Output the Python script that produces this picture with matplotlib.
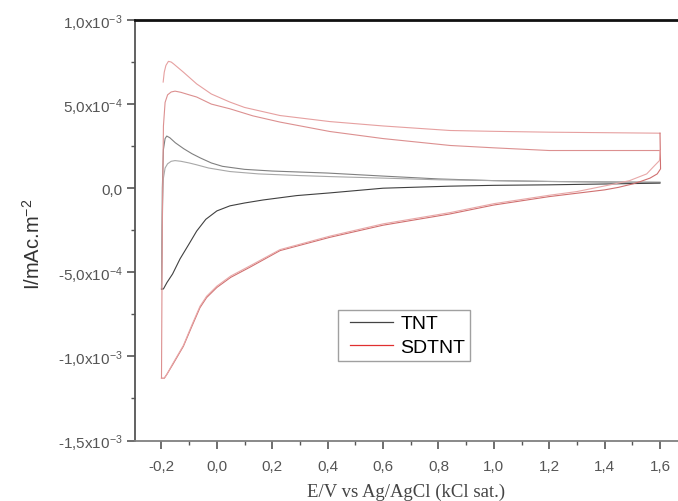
import matplotlib.pyplot as plt
from matplotlib.lines import Line2D
from matplotlib.legend_handler import HandlerLine2D
from matplotlib.ticker import MultipleLocator

plt.rcParams['font.family'] = ['Liberation Sans', 'DejaVu Sans']
plt.rcParams['mathtext.default'] = 'regular'

# Cyclic voltammograms, E in V, I in units of 1e-4
# TNT - first anodic sweep
tnt_an1_E = [-0.2, -0.197, -0.193, -0.187, -0.181, -0.17, -0.15, -0.12, -0.09, -0.06,
             -0.02, 0.02, 0.1, 0.2, 0.4, 0.6, 0.8, 1.0, 1.2, 1.4, 1.6]
tnt_an1_I = [-6.0, 0.0, 2.3, 2.95, 3.1, 3.0, 2.7, 2.35, 2.05, 1.8,
             1.5, 1.3, 1.12, 1.02, 0.9, 0.72, 0.55, 0.45, 0.4, 0.37, 0.35]
# TNT - second anodic sweep
tnt_an2_E = [-0.2, -0.196, -0.193, -0.187, -0.178, -0.165, -0.151, -0.13, -0.1, -0.073,
             -0.03, 0.047, 0.15, 0.3, 0.408, 0.6, 0.8, 1.0, 1.2, 1.4, 1.6]
tnt_an2_I = [-6.0, -1.0, 0.6, 1.2, 1.45, 1.6, 1.64, 1.6, 1.5, 1.39,
             1.2, 0.99, 0.85, 0.75, 0.69, 0.6, 0.5, 0.45, 0.4, 0.37, 0.35]
# TNT - cathodic sweep
tnt_cat_E = [1.6, 1.4, 1.2, 1.0, 0.84, 0.6, 0.408, 0.288, 0.167, 0.1, 0.047,
             0.0, -0.04, -0.073, -0.1, -0.133, -0.16, -0.18, -0.193, -0.2]
tnt_cat_I = [0.3, 0.25, 0.2, 0.17, 0.12, 0.0, -0.28, -0.44, -0.7, -0.88, -1.05,
             -1.35, -1.85, -2.55, -3.3, -4.2, -5.1, -5.6, -5.99, -6.0]

# SDTNT - first anodic sweep
sd_an1_E = [-0.194, -0.19, -0.184, -0.175, -0.165, -0.157, -0.121, -0.073, -0.02, 0.047,
            0.1, 0.228, 0.408, 0.6, 0.842, 1.0, 1.2, 1.4, 1.6]
sd_an1_I = [6.31, 6.9, 7.3, 7.54, 7.5, 7.4, 6.9, 6.2, 5.6, 5.12,
            4.8, 4.32, 3.96, 3.7, 3.43, 3.38, 3.33, 3.3, 3.27]
# SDTNT - second anodic sweep
sd_an2_E = [-0.2, -0.197, -0.193, -0.187, -0.178, -0.165, -0.151, -0.13, -0.1, -0.073,
            -0.02, 0.047, 0.13, 0.228, 0.408, 0.6, 0.842, 1.0, 1.2, 1.4, 1.6]
sd_an2_I = [-11.3, -2.0, 3.7, 5.1, 5.55, 5.72, 5.77, 5.7, 5.55, 5.42,
            5.0, 4.72, 4.3, 3.93, 3.37, 2.95, 2.54, 2.4, 2.24, 2.24, 2.24]
# SDTNT - cathodic sweeps
sd_cat1_E = [1.6, 1.602, 1.59, 1.564, 1.53, 1.503, 1.45, 1.4, 1.3, 1.2,
             1.0, 0.842, 0.6, 0.408, 0.228, 0.119, 0.05, 0.0, -0.037, -0.061,
             -0.09, -0.121, -0.16, -0.18, -0.19, -0.2]
sd_cat1_I = [3.27, 1.15, 0.85, 0.6, 0.4, 0.26, 0.05, -0.1, -0.3, -0.5,
             -1.0, -1.53, -2.2, -2.92, -3.71, -4.7, -5.3, -5.9, -6.5, -7.1,
             -8.2, -9.4, -10.5, -11.05, -11.3, -11.3]
sd_cat2_E = [1.6, 1.598, 1.575, 1.552, 1.49, 1.42, 1.3, 1.2, 1.0, 0.842,
             0.6, 0.408, 0.228, 0.119, 0.05, 0.0, -0.037, -0.061, -0.09, -0.121,
             -0.16, -0.18, -0.19, -0.2]
sd_cat2_I = [2.24, 1.64, 1.25, 0.85, 0.45, 0.2, -0.2, -0.42, -0.92, -1.45,
             -2.12, -2.85, -3.65, -4.62, -5.22, -5.82, -6.42, -7.02,
             -8.12, -9.35, -10.45, -11.05, -11.3, -11.3]

yticks = [1.0e-3, 5.0e-4, 0.0, -5.0e-4, -1.0e-3, -1.5e-3]
ytick_labels = ['1,0x10$^{-3}$', '5,0x10$^{-4}$', '0,0', '-5,0x10$^{-4}$',
                '-1,0x10$^{-3}$', '-1,5x10$^{-3}$']
xticks = [-0.2, 0.0, 0.2, 0.4, 0.6, 0.8, 1.0, 1.2, 1.4, 1.6]
xtick_labels = ['-0,2', '0,0', '0,2', '0,4', '0,6', '0,8', '1,0', '1,2', '1,4', '1,6']


def scale(vals):
    return [v * 1e-4 for v in vals]


fig = plt.figure(figsize=(6.78, 5.02), dpi=100)
ax = fig.add_axes([0.1991, 0.1205, 0.8009, 0.8377])

ax.plot(tnt_an1_E, scale(tnt_an1_I), color='#808080', lw=0.8)
ax.plot(tnt_an2_E, scale(tnt_an2_I), color='#a8a8a8', lw=0.8)
ax.plot(tnt_cat_E, scale(tnt_cat_I), color='#404040', lw=0.8)

ax.plot(sd_an1_E, scale(sd_an1_I), color='#e6a0a0', lw=0.8)
ax.plot(sd_an2_E, scale(sd_an2_I), color='#dc9090', lw=0.8)
ax.plot(sd_cat1_E, scale(sd_cat1_I), color='#d07070', lw=0.8)
ax.plot(sd_cat2_E, scale(sd_cat2_I), color='#e8a8a8', lw=0.8)

ax.set_xlim(-0.2957, 1.665)
ax.set_ylim(-1.5e-3, 1.0e-3)

ax.set_xticks(xticks, labels=xtick_labels)
ax.set_yticks(yticks, labels=ytick_labels)
ax.xaxis.set_minor_locator(MultipleLocator(0.1))
ax.yaxis.set_minor_locator(MultipleLocator(2.5e-4))
ax.tick_params(which='major', direction='out', length=6, width=1.2,
               colors='#555555', labelcolor='#555555', labelsize=11)
ax.tick_params(which='minor', direction='out', length=3, width=1.0, colors='#555555')
ax.tick_params(axis='y', pad=3)
ax.tick_params(axis='x', pad=7)

ax.spines['right'].set_visible(False)
ax.spines['top'].set_color('#111111')
ax.spines['top'].set_linewidth(2.0)
ax.spines['left'].set_color('#555555')
ax.spines['left'].set_linewidth(1.3)
ax.spines['bottom'].set_color('#808080')
ax.spines['bottom'].set_linewidth(1.3)

ax.set_ylabel('I/mAc.m$^{-2}$', fontsize=14.5, color='#333333')
ax.yaxis.set_label_coords(-0.168, 0.47)
ax.set_xlabel('E/V vs Ag/AgCl (kCl sat.)', fontsize=13.5, color='#444444',
              family=['Liberation Serif', 'DejaVu Serif'])
ax.xaxis.set_label_coords(0.5, -0.1)

handles = [Line2D([], [], color='#444444', lw=0.9),
           Line2D([], [], color='#e03030', lw=0.9)]
leg = ax.legend(handles, ['TNT', 'SDTNT'], loc='upper left',
                bbox_to_anchor=(0.3738, 0.3107), fontsize=14, frameon=True,
                fancybox=False, edgecolor='#888888', handlelength=2.56,
                handletextpad=0.4, borderpad=0.25, labelspacing=0.3,
                borderaxespad=0, handler_map={Line2D: HandlerLine2D(xpad=0.36)})
leg.get_frame().set_linewidth(1.0)

fig.savefig('out.png', dpi=100)
